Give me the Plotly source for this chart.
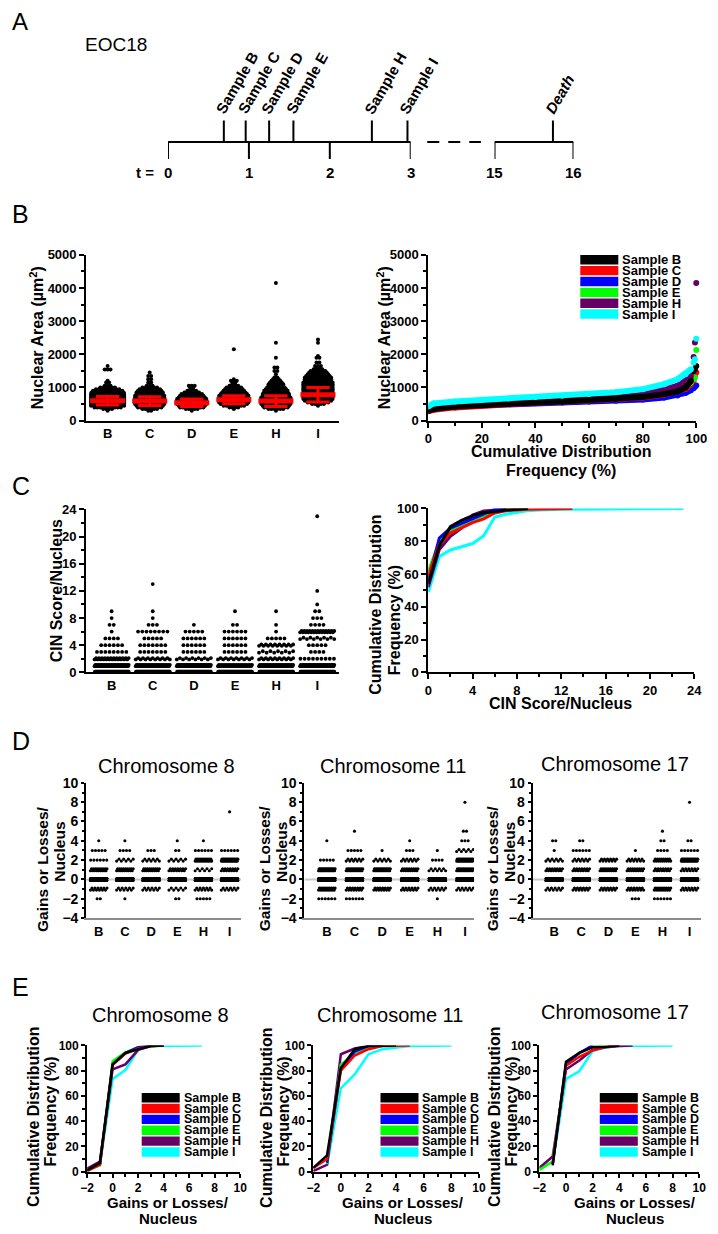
import plotly.graph_objects as go

W, H = 718, 1234
OFF = 8  # the page body margin shifts the figure by 8px; coordinates below are page pixels
FW, FH = W - OFF, H - OFF
FONT = "Liberation Sans, Arial, sans-serif"


def PX(x):
    return (x - OFF) / FW


def PY(y):
    return 1 - (y - OFF) / FH


SAMPLES = ["B", "C", "D", "E", "H", "I"]
SAMPLE_NAMES = ["Sample B", "Sample C", "Sample D", "Sample E", "Sample H", "Sample I"]
COLORS = ["#000000", "#ff0000", "#0000ff", "#00ff00", "#660066", "#00ffff"]

# ---------------- Panel A : timeline ----------------
T_TICKS_EARLY = [0, 1, 2, 3]
T_TICKS_LATE = [15, 16]
SAMPLE_TIMES = [0.69, 0.96, 1.25, 1.55, 2.52, 2.96]
DEATH_TIME = 15.74

# ---------------- Panel B left : nuclear area dot plot ----------------
AREA_BINS = [300, 350, 400, 450, 500, 550, 600, 650, 700, 750, 800, 850, 900, 950,
             1000, 1050, 1100, 1150, 1200, 1250, 1300, 1350, 1400, 1450, 1500, 1550, 1600]
AREA_COUNTS = {
    "B": [1, 4, 10, 13, 14, 14, 14, 14, 14, 14, 13, 12, 11, 9, 6, 3, 0, 0, 0, 0, 0, 0, 0, 0, 0, 0, 0],
    "C": [2, 6, 9, 10, 11, 11, 11, 11, 11, 11, 10, 10, 9, 8, 6, 3, 0, 0, 0, 0, 0, 0, 0, 0, 0, 0, 0],
    "D": [1, 5, 9, 10, 11, 11, 11, 11, 10, 9, 8, 6, 4, 2, 0, 0, 0, 0, 0, 0, 0, 0, 0, 0, 0, 0, 0],
    "E": [0, 1, 4, 8, 10, 11, 11, 11, 11, 11, 10, 9, 8, 7, 6, 4, 2, 0, 0, 0, 0, 0, 0, 0, 0, 0, 0],
    "H": [1, 6, 9, 10, 11, 11, 11, 11, 11, 10, 10, 9, 9, 8, 7, 6, 6, 5, 4, 3, 2, 0, 0, 0, 0, 0, 0],
    "I": [0, 0, 0, 1, 5, 8, 10, 11, 11, 11, 11, 11, 11, 11, 11, 11, 11, 11, 10, 10, 10, 9, 8, 7, 6, 4, 2],
}
AREA_TAIL = {
    "B": [(1650, 1), (1540, 3), (1200, 1), (1150, 2)],
    "C": [(1450, 1), (1350, 2), (1250, 2), (1150, 2)],
    "D": [(1050, 3), (1000, 2)],
    "E": [(2150, 1), (1250, 1), (1200, 3), (1150, 2)],
    "H": [(4150, 1), (2350, 1), (1900, 1), (1600, 2), (1500, 2), (1400, 1)],
    "I": [(2450, 1), (2350, 1), (1950, 1), (1900, 2), (1750, 2), (1650, 3)],
}
AREA_MEAN = [600, 590, 540, 630, 590, 780]
AREA_SD = [130, 130, 110, 120, 160, 220]

# ---------------- Panel B right : cumulative distribution of area ----------------
CDF_PCT = [0, 2, 10, 20, 30, 40, 50, 60, 70, 80, 88, 93, 96, 98]
CDF_TAIL_PCT = [99, 99.5, 100]
AREA_Q = {
    "B": [300, 350, 430, 480, 520, 550, 580, 610, 650, 710, 800, 880, 1000, 1200],
    "C": [280, 330, 400, 460, 500, 540, 570, 600, 640, 700, 790, 870, 960, 1100],
    "D": [320, 370, 430, 470, 500, 530, 550, 575, 600, 640, 700, 760, 840, 920],
    "E": [380, 420, 470, 510, 550, 580, 610, 650, 700, 760, 840, 920, 1020, 1150],
    "H": [330, 380, 440, 480, 520, 550, 580, 620, 680, 780, 920, 1050, 1200, 1350],
    "I": [430, 520, 580, 630, 670, 710, 750, 800, 860, 950, 1100, 1250, 1400, 1550],
}
AREA_Q_TAIL = {
    "B": [1500, 1560, 1650],
    "C": [1200, 1350, 1450],
    "D": [980, 1020, 1060],
    "E": [1250, 1300, 2130],
    "H": [1920, 2360, 4150],
    "I": [1750, 1850, 2470],
}

# ---------------- Panel C : CIN score per nucleus (value: count) ----------------
CIN_COUNTS = {
    "B": {0: 112, 1: 48, 2: 24, 3: 8, 4: 6, 5: 4, 6: 1, 7: 2, 8: 1, 9: 1},
    "C": {0: 130, 1: 42, 2: 15, 3: 7, 4: 7, 5: 5, 6: 8, 7: 3, 8: 1, 9: 1, 13: 1},
    "D": {0: 112, 1: 52, 2: 12, 3: 6, 4: 6, 5: 6, 6: 5, 7: 1},
    "E": {0: 124, 1: 36, 2: 14, 3: 6, 4: 6, 5: 6, 6: 6, 7: 2, 9: 1},
    "H": {0: 104, 1: 46, 2: 16, 3: 10, 4: 16, 5: 5, 6: 1, 7: 1, 9: 1},
    "I": {0: 112, 1: 50, 2: 9, 3: 4, 4: 5, 5: 11, 6: 26, 7: 4, 8: 3, 9: 2, 10: 1, 12: 1, 23: 1},
}

# ---------------- Panels D/E : gains or losses per nucleus (value: count) ----------------
CHR8 = {
    "B": {-2: 2, -1: 12, 0: 156, 1: 18, 2: 6, 3: 5, 4: 1},
    "C": {-2: 1, -1: 10, 0: 158, 1: 18, 2: 8, 3: 4, 4: 1},
    "D": {-1: 10, 0: 160, 1: 18, 2: 9, 3: 3},
    "E": {-2: 2, -1: 8, 0: 165, 1: 14, 2: 8, 3: 2, 4: 1},
    "H": {-2: 5, -1: 11, 0: 146, 1: 8, 2: 23, 3: 6, 4: 1},
    "I": {-1: 10, 0: 137, 1: 14, 2: 32, 3: 6, 7: 1},
}
CHR11 = {
    "B": {-2: 6, -1: 20, 0: 138, 1: 30, 2: 5, 4: 1},
    "C": {-2: 6, -1: 14, 0: 140, 1: 24, 2: 10, 3: 5, 5: 1},
    "D": {-1: 14, 0: 150, 1: 26, 2: 9, 3: 1},
    "E": {-1: 12, 0: 158, 1: 16, 2: 10, 3: 3, 4: 1},
    "H": {-2: 1, -1: 10, 0: 175, 1: 9, 2: 4, 3: 1},
    "I": {-1: 10, 0: 122, 1: 22, 2: 32, 3: 8, 4: 3, 5: 2, 8: 1},
}
CHR17 = {
    "B": {-1: 10, 0: 164, 1: 14, 2: 9, 3: 1, 4: 2},
    "C": {-1: 12, 0: 156, 1: 14, 2: 10, 3: 6, 4: 2},
    "D": {-1: 12, 0: 158, 1: 18, 2: 12},
    "E": {-2: 3, -1: 13, 0: 156, 1: 16, 2: 11, 3: 1},
    "H": {-2: 6, -1: 18, 0: 138, 1: 14, 2: 17, 3: 4, 4: 2, 5: 1},
    "I": {-1: 12, 0: 135, 1: 12, 2: 32, 3: 6, 4: 2, 8: 1},
}
CHROMS = [("Chromosome 8", CHR8), ("Chromosome 11", CHR11), ("Chromosome 17", CHR17)]

# ======================================================================
fig = go.Figure()
layout = dict(width=FW, height=FH, margin=dict(l=0, r=0, t=0, b=0),
              paper_bgcolor="white", plot_bgcolor="white", showlegend=False,
              font=dict(family=FONT, color="black"))
annotations = []
shapes = []

BASE = dict(showline=True, linecolor="black", linewidth=2, ticks="outside", ticklen=5,
            tickwidth=2, tickcolor="black", showgrid=False, zeroline=False, fixedrange=True,
            tickfont=dict(family=FONT, size=13, color="black", weight="bold"))


def minor(dt, ln=3):
    return dict(dtick=dt, ticks="outside", ticklen=ln, tickwidth=1.5, tickcolor="black", showgrid=False)


AX = {}


def add_axes(n, xdom, xrange, ydom, yrange, xkw=None, ykw=None):
    xs = "" if n == 1 else str(n)
    xa = dict(BASE, domain=[PX(xdom[0]), PX(xdom[1])], range=xrange, anchor="y" + xs)
    ya = dict(BASE, domain=[PY(ydom[0]), PY(ydom[1])], range=yrange, anchor="x" + xs)
    xa.update(xkw or {})
    ya.update(ykw or {})
    layout["xaxis" + xs] = xa
    layout["yaxis" + xs] = ya
    xu = (xrange[1] - xrange[0]) / (xdom[1] - xdom[0])
    yu = (yrange[1] - yrange[0]) / (ydom[0] - ydom[1])
    AX[n] = ("x" + xs, "y" + xs, xu, yu)


def ann(text, x, y, size=16, bold=True, angle=0, xanchor="center", yanchor="middle", **kw):
    d = dict(text=text, x=PX(x), y=PY(y), xref="paper", yref="paper", showarrow=False,
             textangle=angle, xanchor=xanchor, yanchor=yanchor,
             font=dict(family=FONT, size=size, color="black", weight="bold" if bold else "normal"))
    d.update(kw)
    annotations.append(d)


def dot_positions(vc, cat, spacing, wmax, dy, xu, yu):
    xs, ys = [], []
    nmax = int(wmax // spacing) + 1
    for v, n in vc:
        if n <= 0:
            continue
        if n <= nmax:
            for i in range(n):
                xs.append(cat + (i - (n - 1) / 2) * spacing * xu)
                ys.append(v)
        else:
            for i in range(n):
                xs.append(cat + (-wmax / 2 + i * wmax / (n - 1)) * xu)
                ys.append(v + (dy if i % 2 else -dy) * yu)
    return xs, ys


def cumulative(counts):
    vals = sorted(counts)
    tot = sum(counts.values())
    c, out = 0, []
    for v in vals:
        c += counts[v]
        out.append(100.0 * c / tot)
    return vals, out


def legend_box(x0, x1, ycenters, swh, tx, size):
    for name, col, yc in zip(SAMPLE_NAMES, COLORS, ycenters):
        shapes.append(dict(type="rect", xref="paper", yref="paper", x0=PX(x0), x1=PX(x1),
                           y0=PY(yc + swh / 2), y1=PY(yc - swh / 2), fillcolor=col,
                           line=dict(width=0)))
        ann(name, tx, yc, size=size, xanchor="left")


# ---------------- Panel A ----------------
layout["xaxis11"] = dict(domain=[PX(165), PX(414)], range=[0, 3], visible=False, anchor="y11", fixedrange=True)
layout["xaxis12"] = dict(domain=[PX(500), PX(581)], range=[15, 16], visible=False, anchor="y11", fixedrange=True)
layout["yaxis11"] = dict(domain=[PY(160), PY(105)], range=[0, 55], visible=False, anchor="x11", fixedrange=True)
LVL, UP, DOWN = 24.3, 46, 7


def seg_trace(xs_pairs, ys_pairs, xaxis):
    xs, ys = [], []
    for a, b in zip(xs_pairs, ys_pairs):
        xs += [a[0], a[1], None]
        ys += [b[0], b[1], None]
    fig.add_trace(go.Scatter(x=xs, y=ys, mode="lines", line=dict(color="black", width=2),
                             xaxis=xaxis, yaxis="y11", hoverinfo="skip"))


seg_trace([(T_TICKS_EARLY[0], T_TICKS_EARLY[-1])] + [(t, t) for t in T_TICKS_EARLY] +
          [(s, s) for s in SAMPLE_TIMES],
          [(LVL, LVL)] + [(LVL, DOWN)] * len(T_TICKS_EARLY) + [(LVL, UP)] * len(SAMPLE_TIMES), "x11")
seg_trace([(T_TICKS_LATE[0], T_TICKS_LATE[-1])] + [(t, t) for t in T_TICKS_LATE] + [(DEATH_TIME, DEATH_TIME)],
          [(LVL, LVL)] + [(LVL, DOWN)] * len(T_TICKS_LATE) + [(LVL, UP)], "x12")
shapes.append(dict(type="line", xref="paper", yref="paper", x0=PX(431), x1=PX(486), y0=PY(135.7), y1=PY(135.7),
                   line=dict(color="black", width=2, dash="12px,9px")))

TFONT = dict(family=FONT, size=15, color="black", weight="bold")
for t in T_TICKS_EARLY:
    annotations.append(dict(text=str(t), x=t, y=PY(167), xref="x11", yref="paper", showarrow=False,
                            yanchor="middle", font=TFONT))
for t in T_TICKS_LATE:
    annotations.append(dict(text=str(t), x=t, y=PY(167), xref="x12", yref="paper", showarrow=False,
                            yanchor="middle", font=TFONT))
ann("t =", 141, 167, size=15)
LFONT = dict(family=FONT, size=15, color="black", weight="bold")
for s, name in zip(SAMPLE_TIMES, SAMPLE_NAMES):
    annotations.append(dict(text=name, x=s, y=PY(113), xref="x11", yref="paper", showarrow=False,
                            textangle=-60, xanchor="left", yanchor="bottom", xshift=-14, font=LFONT))
annotations.append(dict(text="<i>Death</i>", x=DEATH_TIME, y=PY(113), xref="x12", yref="paper", showarrow=False,
                        textangle=-60, xanchor="left", yanchor="bottom", xshift=-14, font=LFONT))
ann("A", 3, 14, size=24, bold=False, xanchor="left")
ann("EOC18", 78, 37, size=19, bold=False, xanchor="left")

# ---------------- Panel B left ----------------
cat_ticks = dict(tickvals=list(range(6)), ticktext=SAMPLES, ticks="")
add_axes(1, (81, 340), [-0.51, 5.49], (418, 250), [0, 5000], xkw=cat_ticks,
         ykw=dict(dtick=1000, minor=minor(500)))
xa, ya, xu, yu = AX[1]
for k, s in enumerate(SAMPLES):
    vc = list(zip(AREA_BINS, AREA_COUNTS[s])) + AREA_TAIL[s]
    xs, ys = dot_positions(vc, k, 3.0, 34, 0, xu, yu)
    fig.add_trace(go.Scatter(x=xs, y=ys, mode="markers", marker=dict(color="black", size=4, line=dict(width=0)),
                             xaxis=xa, yaxis=ya, hoverinfo="skip"))
mx, my, sx, sy = [], [], [], []
for k, (m, sd) in enumerate(zip(AREA_MEAN, AREA_SD)):
    hw, cw = 18 * xu, 12 * xu
    mx += [k - hw, k + hw, None]
    my += [m, m, None]
    sx += [k, k, None, k - cw, k + cw, None, k - cw, k + cw, None]
    sy += [m - sd, m + sd, None, m + sd, m + sd, None, m - sd, m - sd, None]
fig.add_trace(go.Scatter(x=sx, y=sy, mode="lines", line=dict(color="#ff0000", width=3), xaxis=xa, yaxis=ya,
                         hoverinfo="skip"))
fig.add_trace(go.Scatter(x=mx, y=my, mode="lines", line=dict(color="#ff0000", width=5), xaxis=xa, yaxis=ya,
                         hoverinfo="skip"))
ann("B", 3, 209, size=25, bold=False, xanchor="left")
ann("Nuclear Area (µm<sup>2</sup>)", 30, 334, angle=-90)

# ---------------- Panel B right ----------------
add_axes(2, (432, 707), [0, 100], (418, 250), [0, 5000],
         xkw=dict(dtick=20, minor=minor(10)), ykw=dict(dtick=1000, minor=minor(500)))
xa, ya, xu, yu = AX[2]
for idx in [2, 1, 3, 4, 0, 5]:
    s, col = SAMPLES[idx], COLORS[idx]
    fig.add_trace(go.Scatter(x=CDF_PCT, y=AREA_Q[s], mode="lines+markers",
                             line=dict(color=col, width=6), marker=dict(color=col, size=6),
                             xaxis=xa, yaxis=ya, hoverinfo="skip"))
    fig.add_trace(go.Scatter(x=CDF_TAIL_PCT, y=AREA_Q_TAIL[s], mode="markers",
                             marker=dict(color=col, size=6), xaxis=xa, yaxis=ya, hoverinfo="skip",
                             cliponaxis=False))
legend_box(588, 627, [255, 266, 277, 288, 299, 310], 9.5, 629, 13)
ann("Nuclear Area (µm<sup>2</sup>)", 386, 334, angle=-90)
ann("Cumulative Distribution", 568, 449)
ann("Frequency (%)", 568, 469)

# ---------------- Panel C left ----------------
add_axes(3, (81, 340), [-0.62, 5.52], (673, 508), [0, 24], xkw=cat_ticks,
         ykw=dict(dtick=4, minor=minor(2)))
xa, ya, xu, yu = AX[3]
for k, s in enumerate(SAMPLES):
    xs, ys = dot_positions(sorted(CIN_COUNTS[s].items()), k, 4.3, 35, 0.7, xu, yu)
    fig.add_trace(go.Scatter(x=xs, y=ys, mode="markers", marker=dict(color="black", size=3.8, line=dict(width=0)),
                             xaxis=xa, yaxis=ya, hoverinfo="skip", cliponaxis=False))
ann("C", 3, 484, size=25, bold=False, xanchor="left")
ann("CIN Score/Nucleus", 50, 590, angle=-90)

# ---------------- Panel C right ----------------
add_axes(4, (432, 705), [0, 24], (673, 507), [0, 100],
         xkw=dict(dtick=4, minor=minor(2)), ykw=dict(dtick=20, minor=minor(10)))
xa, ya, xu, yu = AX[4]
for idx in [5, 4, 3, 2, 1, 0]:
    vals, cum = cumulative(CIN_COUNTS[SAMPLES[idx]])
    fig.add_trace(go.Scatter(x=vals, y=cum, mode="lines", line=dict(color=COLORS[idx], width=3),
                             xaxis=xa, yaxis=ya, hoverinfo="skip", cliponaxis=False))
ann("Cumulative Distribution", 378, 605, angle=-90)
ann("Frequency (%)", 397, 620, angle=-90)
ann("CIN Score/Nucleus", 568, 705)

# ---------------- Panel D ----------------
D_X = [((81, 240), [-0.48, 5.44]), ((305, 479), [-0.81, 5.33]), ((539, 712), [-0.8, 5.43])]
D_TITLE_X = [163, 396, 624]
D_YT_X = [(36, 54), (264, 282), (498, 516)]
for j, ((xdom, xr), (title, data)) in enumerate(zip(D_X, CHROMS)):
    n = 5 + j
    add_axes(n, xdom, xr, (922, 785), [-4, 10],
             xkw=dict(cat_ticks, linecolor="#8c8c8c", tickfont=dict(family=FONT, size=13, color="black",
                                                                   weight="bold")),
             ykw=dict(dtick=2, ticklen=3, minor=minor(1, 2),
                      tickfont=dict(family=FONT, size=14, color="black", weight="bold")))
    xa, ya, xu, yu = AX[n]
    fig.add_trace(go.Scatter(x=xr, y=[0, 0], mode="lines", line=dict(color="#c8c8c8", width=2),
                             xaxis=xa, yaxis=ya, hoverinfo="skip"))
    for k, s in enumerate(SAMPLES):
        xs, ys = dot_positions(sorted(data[s].items()), k, 3.3, 17, 1.0, xu, yu)
        fig.add_trace(go.Scatter(x=xs, y=ys, mode="markers",
                                 marker=dict(color="black", size=3.1, line=dict(width=0)),
                                 xaxis=xa, yaxis=ya, hoverinfo="skip"))
    ann(title, D_TITLE_X[j], 768 if j < 2 else 766, size=20, bold=False)
    ann("Gains or Losses/", D_YT_X[j][0], 872, size=15.5, angle=-90)
    ann("Nucleus", D_YT_X[j][1], 855, size=15.5, angle=-90)
ann("D", 3, 743, size=25, bold=False, xanchor="left")

# ---------------- Panel E ----------------
E_X = [(82, 239), (314, 484), (546, 710)]
E_TITLE_X = [157, 393, 624]
E_YT_X = [(27, 44), (266, 283), (500, 517)]
E_XT_X = [165, 406, 644]
E_LEG = [(138, 177, 179), (383, 422, 424), (608, 647, 649)]
EFONT = dict(family=FONT, size=12, color="black", weight="bold")
for j, (xdom, (title, data)) in enumerate(zip(E_X, CHROMS)):
    n = 8 + j
    add_axes(n, xdom, [-2, 10], (1179, 1051), [0, 100],
             xkw=dict(dtick=2, ticklen=4, minor=minor(1), tickfont=EFONT),
             ykw=dict(dtick=20, ticklen=4, minor=minor(10), tickfont=EFONT))
    xa, ya, xu, yu = AX[n]
    for idx in [5, 4, 3, 2, 1, 0]:
        vals, cum = cumulative(data[SAMPLES[idx]])
        fig.add_trace(go.Scatter(x=vals, y=cum, mode="lines", line=dict(color=COLORS[idx], width=2.5),
                                 xaxis=xa, yaxis=ya, hoverinfo="skip", cliponaxis=False))
    x0, x1, tx = E_LEG[j]
    legend_box(x0, x1, [1104, 1115, 1126, 1137, 1148, 1159], 9.5, tx, 12.5)
    ann(title, E_TITLE_X[j], 1020 if j < 2 else 1017, size=20, bold=False)
    ann("Cumulative Distribution", E_YT_X[j][0], 1124, size=16, angle=-90)
    ann("Frequency (%)", E_YT_X[j][1], 1118, size=16, angle=-90)
    ann("Gains or Losses/", E_XT_X[j], 1210, size=15)
    ann("Nucleus", E_XT_X[j], 1226, size=15)
ann("E", 3, 992, size=25, bold=False, xanchor="left")

layout["annotations"] = annotations
layout["shapes"] = shapes
fig.update_layout(**layout)
fig.write_html("out.html")
